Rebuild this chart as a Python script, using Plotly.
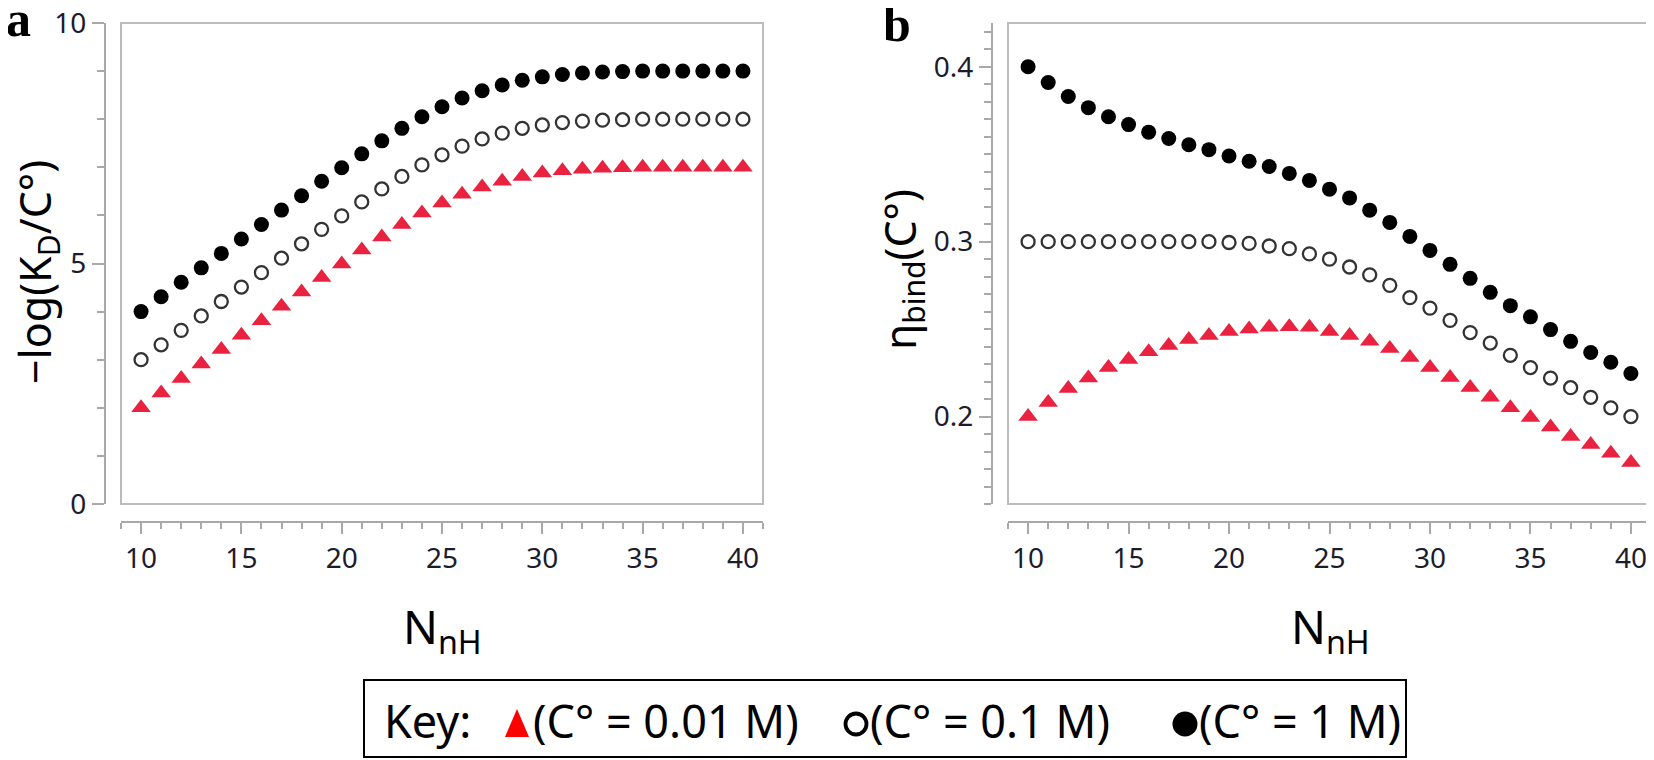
import plotly.graph_objects as go

W, H = 1654, 760
OFF = 8  # page body margin in the browser

# ---------------- data ----------------
N_nH = [10, 11, 12, 13, 14, 15, 16, 17, 18, 19, 20, 21, 22, 23, 24, 25,
        26, 27, 28, 29, 30, 31, 32, 33, 34, 35, 36, 37, 38, 39, 40]

# panel a: -log(KD/C°)
a_001M = [2.00, 2.31, 2.61, 2.91, 3.21, 3.51, 3.81, 4.11, 4.41, 4.71, 4.99,
          5.28, 5.55, 5.81, 6.05, 6.26, 6.44, 6.59, 6.71, 6.81, 6.88, 6.93,
          6.96, 6.98, 6.99, 7.00, 7.00, 7.00, 7.00, 7.00, 7.00]
a_01M = [3.00, 3.31, 3.61, 3.91, 4.21, 4.51, 4.81, 5.11, 5.41, 5.71, 5.99,
         6.28, 6.55, 6.81, 7.05, 7.26, 7.44, 7.59, 7.71, 7.81, 7.88, 7.93,
         7.96, 7.98, 7.99, 8.00, 8.00, 8.00, 8.00, 8.00, 8.00]
a_1M = [4.00, 4.31, 4.61, 4.91, 5.21, 5.51, 5.81, 6.11, 6.41, 6.71, 6.99,
        7.28, 7.55, 7.81, 8.05, 8.26, 8.44, 8.59, 8.71, 8.81, 8.88, 8.93,
        8.96, 8.98, 8.99, 9.00, 9.00, 9.00, 9.00, 9.00, 9.00]

# panel b: eta_bind(C°)
b_001M = [0.200, 0.208, 0.216, 0.222, 0.228, 0.2326, 0.237, 0.2406, 0.244,
          0.2463, 0.2486, 0.250, 0.251, 0.2514, 0.251, 0.2486, 0.2463, 0.243,
          0.2389, 0.2337, 0.228, 0.2223, 0.2166, 0.211, 0.205, 0.1994, 0.194,
          0.1886, 0.184, 0.179, 0.1737]
b_01M = [0.300, 0.300, 0.300, 0.300, 0.300, 0.300, 0.300, 0.300, 0.300,
         0.300, 0.2995, 0.299, 0.2975, 0.296, 0.293, 0.290, 0.2855, 0.281,
         0.275, 0.268, 0.262, 0.255, 0.248, 0.242, 0.235, 0.228, 0.222,
         0.2165, 0.211, 0.205, 0.200]
b_1M = [0.400, 0.391, 0.383, 0.3766, 0.3714, 0.3669, 0.3626, 0.359, 0.3554,
        0.3526, 0.349, 0.346, 0.343, 0.339, 0.335, 0.330, 0.325, 0.318,
        0.311, 0.303, 0.295, 0.287, 0.279, 0.271, 0.2634, 0.257, 0.2497,
        0.243, 0.2366, 0.231, 0.2246]

x_ticks = [10, 15, 20, 25, 30, 35, 40]
ya_ticks = [0, 5, 10]
yb_ticks = [0.2, 0.3, 0.4]
yb_ticktext = ["0.2", "0.3", "0.4"]

legend_labels = ["(C° = 0.01 M)", "(C° = 0.1 M)", "(C° = 1 M)"]

# ---------------- helpers (page pixels -> paper fractions) ----------------
FW, FH = W - OFF, H - OFF


def px(x):
    return (x - OFF) / FW


def py(y):
    return 1 - (y - OFF) / FH


RED = "#e8223f"
AXC = "#a9a9a9"
BOXC = "#bcbcbc"
TICKFONT = dict(family="Noto Sans", size=28, color="#1c1c2c")

fig = go.Figure()


def add_series(xa, ya, red, opn, blk):
    fig.add_trace(go.Scatter(x=N_nH, y=red, mode="markers", xaxis=xa, yaxis=ya,
                             marker=dict(symbol="triangle-up", size=17, color=RED,
                                         line=dict(width=0)), showlegend=False))
    fig.add_trace(go.Scatter(x=N_nH, y=opn, mode="markers", xaxis=xa, yaxis=ya,
                             marker=dict(symbol="circle-open", size=13, color="#333333",
                                         line=dict(width=2.3, color="#333333")),
                             showlegend=False))
    fig.add_trace(go.Scatter(x=N_nH, y=blk, mode="markers", xaxis=xa, yaxis=ya,
                             marker=dict(symbol="circle", size=15, color="#000000",
                                         line=dict(width=0)), showlegend=False))


add_series("x", "y", a_001M, a_01M, a_1M)
add_series("x2", "y2", b_001M, b_01M, b_1M)

common = dict(showline=True, linecolor=AXC, linewidth=2, ticks="outside",
              tickcolor=AXC, tickwidth=2, showgrid=False, zeroline=False,
              tickfont=TICKFONT, automargin=False, anchor="free", fixedrange=True,
              ticklabeloverflow="allow")

ydom = [py(504), py(23)]

fig.update_layout(
    xaxis=dict(common, domain=[px(121), px(763)], range=[9, 41], position=py(522),
               tickvals=x_ticks, ticklen=11,
               minor=dict(dtick=1, tick0=0, ticklen=6, ticks="outside",
                          tickcolor=AXC, tickwidth=2, showgrid=False)),
    yaxis=dict(common, domain=ydom, range=[0, 10], position=px(105),
               tickvals=ya_ticks, ticklen=12,
               minor=dict(dtick=1, tick0=0, ticklen=7, ticks="outside",
                          tickcolor=AXC, tickwidth=2, showgrid=False)),
    xaxis2=dict(common, domain=[px(1008), px(1651)], range=[9, 41], position=py(522),
                tickvals=x_ticks, ticklen=11,
                minor=dict(dtick=1, tick0=0, ticklen=6, ticks="outside",
                           tickcolor=AXC, tickwidth=2, showgrid=False)),
    yaxis2=dict(common, domain=ydom, range=[0.15, 0.425], position=px(992),
                tickvals=yb_ticks, ticktext=yb_ticktext, ticklen=12,
                minor=dict(dtick=0.01, tick0=0, ticklen=7, ticks="outside",
                           tickcolor=AXC, tickwidth=2, showgrid=False)),
)

shapes = []
for xr, yr in (("x domain", "y domain"), ("x2 domain", "y2 domain")):
    shapes.append(dict(type="rect", xref=xr, yref=yr, x0=0, x1=1, y0=0, y1=1,
                       line=dict(color=BOXC, width=2), layer="below"))

# legend box
shapes.append(dict(type="rect", xref="paper", yref="paper",
                   x0=px(364), x1=px(1406), y0=py(757), y1=py(680),
                   line=dict(color="#000000", width=2)))
# legend triangle
tx, ty, tw, th = 517, 723, 24, 28
shapes.append(dict(type="path", xref="paper", yref="paper",
                   path=f"M {px(tx - tw/2)},{py(ty + th/2)} L {px(tx + tw/2)},{py(ty + th/2)} "
                        f"L {px(tx)},{py(ty - th/2)} Z",
                   fillcolor="#ff0000", line=dict(width=0)))
# legend open circle
cx, cy, r = 856, 724, 10.5
shapes.append(dict(type="circle", xref="paper", yref="paper",
                   x0=px(cx - r), x1=px(cx + r), y0=py(cy + r), y1=py(cy - r),
                   line=dict(color="#000000", width=3.8), fillcolor="rgba(0,0,0,0)"))
# legend filled circle
cx, cy, r = 1185, 724, 12.5
shapes.append(dict(type="circle", xref="paper", yref="paper",
                   x0=px(cx - r), x1=px(cx + r), y0=py(cy + r), y1=py(cy - r),
                   line=dict(color="#000000", width=0), fillcolor="#000000"))

XTFONT = dict(family="Noto Sans", size=46, color="#000000")
YTFONT = dict(family="Noto Sans", size=43, color="#000000")
LEGFONT = dict(family="Noto Sans", size=45, color="#000000")
LETTER = dict(family="Liberation Serif", size=50, color="#000000")

ann = [
    dict(text="<b>a</b>", x=px(18), y=py(19), font=LETTER),
    dict(text="<b>b</b>", x=px(897), y=py(24), font=LETTER),
    dict(text="N<sub>nH</sub>", x=px(442), y=py(629), font=XTFONT),
    dict(text="N<sub>nH</sub>", x=px(1330), y=py(629), font=XTFONT),
    dict(text="\u2212log(K<sub>D</sub>/C°)", x=px(37), y=py(272), textangle=-90, font=YTFONT),
    dict(text="\u03b7<sub>bind</sub>(C°)", x=px(902), y=py(270), textangle=-90, font=YTFONT),
    dict(text="Key:", x=px(382), y=py(720), xanchor="left", font=LEGFONT),
    dict(text=legend_labels[0], x=px(531), y=py(720), xanchor="left", font=LEGFONT),
    dict(text=legend_labels[1], x=px(868), y=py(720), xanchor="left", font=LEGFONT),
    dict(text=legend_labels[2], x=px(1197), y=py(720), xanchor="left", font=LEGFONT),
]
for a in ann:
    a.update(xref="paper", yref="paper", showarrow=False)
    a.setdefault("xanchor", "center")
    a.setdefault("yanchor", "middle")

fig.update_layout(width=FW, height=FH, margin=dict(l=0, r=0, t=0, b=0),
                  paper_bgcolor="white", plot_bgcolor="white", template="none",
                  shapes=shapes, annotations=ann, showlegend=False)

fig.write_html("out.html")
